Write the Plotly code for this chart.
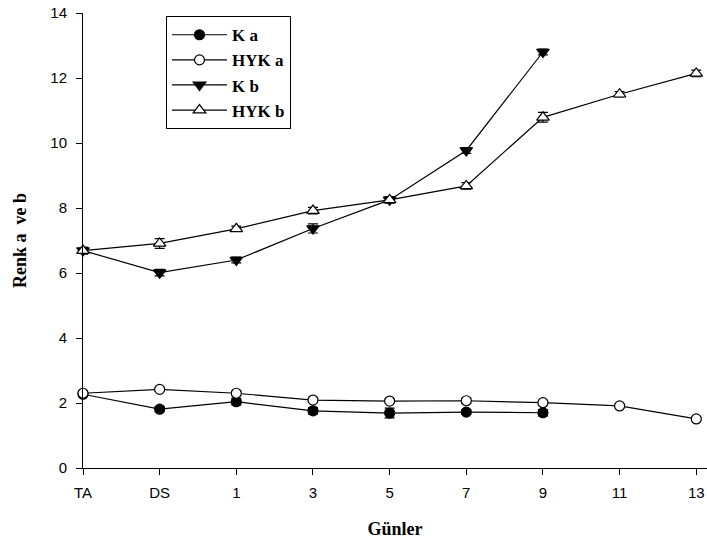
import plotly.graph_objects as go

# Sampling days (categorical axis)
days = ["TA", "DS", "1", "3", "5", "7", "9", "11", "13"]

# Colour values a and b for control (K) and HYK samples
k_a = [2.27, 1.81, 2.04, 1.76, 1.69, 1.72, 1.70]
k_a_err = [0.05, 0.08, 0.10, 0.10, 0.15, 0.07, 0.10]
hyk_a = [2.30, 2.42, 2.30, 2.09, 2.06, 2.07, 2.01, 1.91, 1.51]
hyk_a_err = [0.05, 0.06, 0.07, 0.06, 0.06, 0.08, 0.07, 0.06, 0.05]
k_b = [6.69, 6.01, 6.40, 7.37, 8.25, 9.77, 12.80]
k_b_err = [0.10, 0.10, 0.09, 0.14, 0.08, 0.09, 0.09]
hyk_b = [6.69, 6.91, 7.36, 7.92, 8.25, 8.68, 10.79, 11.50, 12.14]
hyk_b_err = [0.10, 0.15, 0.08, 0.10, 0.10, 0.10, 0.15, 0.08, 0.10]

series = [
    ("K a", days[:len(k_a)], k_a, k_a_err, "circle", "black", 10),
    ("HYK a", days, hyk_a, hyk_a_err, "circle", "white", 10),
    ("K b", days[:len(k_b)], k_b, k_b_err, "triangle-down", "black", 11),
    ("HYK b", days, hyk_b, hyk_b_err, "triangle-up", "white", 11),
]

fig = go.Figure()
for name, xs, ys, errs, sym, fill, size in series:
    fig.add_trace(go.Scatter(
        x=xs, y=ys, name=f"<b>{name}</b>", mode="lines+markers",
        line=dict(color="black", width=1.2),
        marker=dict(symbol=sym, size=size, color=fill,
                    line=dict(color="black", width=1.2)),
        error_y=dict(type="data", array=errs, visible=True,
                     color="black", thickness=1.2, width=5),
        cliponaxis=False,
    ))

axis_font = dict(family="Liberation Sans, Arial", size=15, color="black")
title_font = dict(family="Liberation Serif, Times New Roman", size=18, color="black")

fig.update_layout(
    width=707, height=544,
    margin=dict(l=83, r=0, t=13, b=76),
    plot_bgcolor="white", paper_bgcolor="white",
    showlegend=True,
    legend=dict(
        x=0.133, y=0.993, xanchor="left", yanchor="top",
        bgcolor="white", bordercolor="black", borderwidth=1,
        font=dict(family="Liberation Serif, Times New Roman", size=17, color="black"),
        itemwidth=55, tracegroupgap=0,
    ),
    xaxis=dict(
        type="category", categoryorder="array", categoryarray=days,
        range=[0, 8.14], showline=True, linecolor="black", linewidth=1,
        ticks="outside", ticklen=6, tickcolor="black", showgrid=False,
        zeroline=False, tickfont=axis_font, ticklabelstandoff=5,
        title=dict(text="<b>Günler</b>", font=title_font, standoff=22),
    ),
    yaxis=dict(
        range=[0, 14], dtick=2, showline=True, linecolor="black", linewidth=1,
        ticks="outside", ticklen=6, tickcolor="black", showgrid=False,
        zeroline=False, tickfont=axis_font, ticklabelstandoff=6,
        title=dict(text="<b>Renk a  ve b</b>", font=title_font, standoff=19),
    ),
)

fig.write_html("out.html")
